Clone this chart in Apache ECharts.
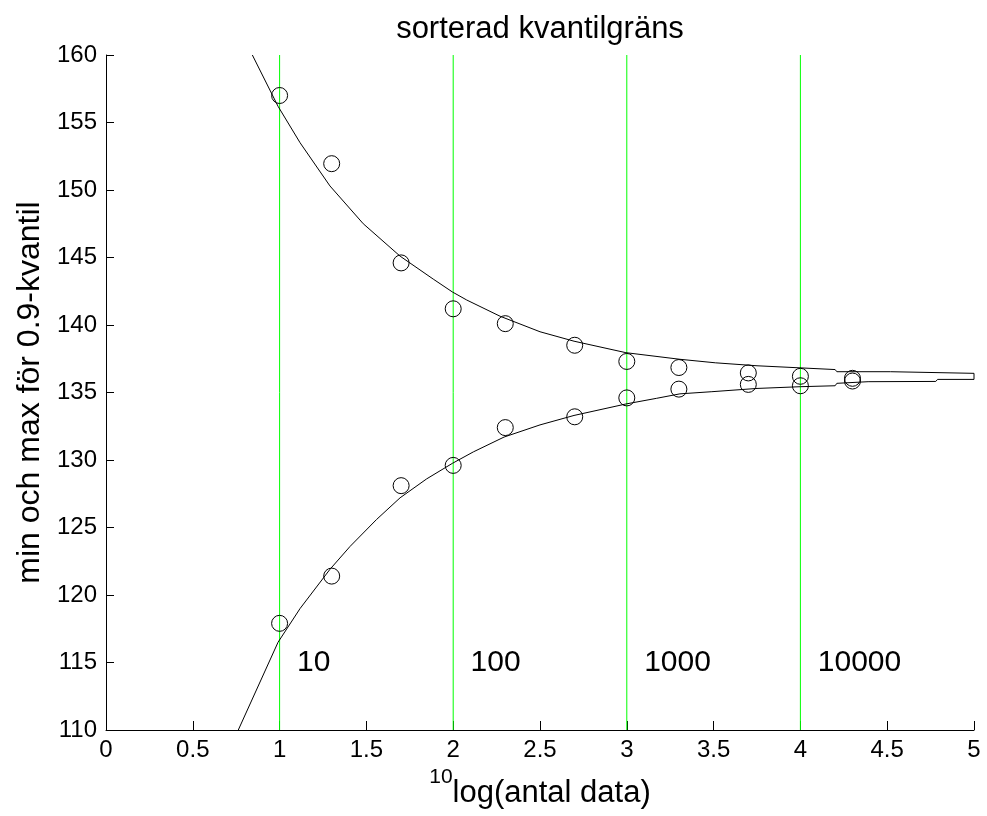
<!DOCTYPE html>
<html>
<head>
<meta charset="utf-8">
<script src="https://cdn.jsdelivr.net/npm/echarts@6/dist/echarts.min.js"></script>
<style>html,body{margin:0;padding:0;background:#fff}#c{width:987px;height:816px}</style>
</head>
<body>
<div id="c"></div>
<script>
// ---- data ----
var pointX = [1, 1.3, 1.7, 2, 2.3, 2.7, 3, 3.3, 3.7, 4, 4.3];
var pointUpper = [157.0, 151.95, 144.6, 141.2, 140.1, 138.5, 137.3, 136.85, 136.45, 136.2, 136.05];
var pointLower = [117.9, 121.4, 128.1, 129.6, 132.4, 133.2, 134.6, 135.25, 135.6, 135.5, 135.85];

var upperCurveX = [0.843, 0.991, 1.118, 1.29, 1.482, 1.694, 1.885, 1.995, 2.078, 2.27, 2.50, 2.696, 2.995, 3.306, 3.51, 3.52, 3.75, 3.76, 4.20, 4.21, 4.52, 4.53, 5.0];
var upperCurveY = [160.0, 156.2, 153.5, 150.3, 147.5, 145.1, 143.4, 142.45, 141.85, 140.65, 139.5, 138.8, 137.95, 137.46, 137.2, 137.1, 136.98, 136.84, 136.7, 136.54, 136.54, 136.42, 136.42];
var lowerCurveX = [0.762, 0.991, 1.118, 1.29, 1.406, 1.559, 1.694, 1.847, 1.995, 2.116, 2.293, 2.50, 2.696, 2.995, 3.172, 3.306, 3.48, 3.49, 3.75, 4.0, 4.20, 4.21, 4.38, 4.39, 4.78, 4.79, 5.0];
var lowerCurveY = [110.0, 116.5, 119.0, 121.9, 123.6, 125.6, 127.2, 128.6, 129.75, 130.6, 131.7, 132.6, 133.3, 134.15, 134.57, 134.9, 135.0, 135.06, 135.3, 135.43, 135.5, 135.68, 135.7, 135.8, 135.82, 135.97, 135.97];

var guideX = [1, 2, 3, 4];
var annotX = [1.1, 2.1, 3.1, 4.1];
var annotY = [115, 115, 115, 115];
var annotText = ['10', '100', '1000', '10000'];

var titleText = 'sorterad kvantilgräns';
var xLabelSup = '10';
var xLabelBase = 'log(antal data)';
var yLabel = 'min och max för 0.9-kvantil';

// ---- build ----
var FONT = 'Liberation Sans, Arial, sans-serif';
var outline = [];
for (var i = 0; i < upperCurveX.length; i++) outline.push([upperCurveX[i], upperCurveY[i]]);
for (var j = lowerCurveX.length - 1; j >= 0; j--) outline.push([lowerCurveX[j], lowerCurveY[j]]);

var series = [];
guideX.forEach(function (gx) {
  series.push({
    type: 'line', data: [[gx, 110], [gx, 160]], symbol: 'none', silent: true,
    lineStyle: { color: '#00ff00', width: 1 }, z: 1, animation: false
  });
});
series.push({
  type: 'line', data: outline, symbol: 'none', clip: true,
  lineStyle: { color: '#000', width: 1 }, z: 3, animation: false
});
var circleStyle = { color: 'rgba(0,0,0,0)', borderColor: '#000', borderWidth: 1, opacity: 1 };
series.push({
  type: 'scatter', data: pointX.map(function (x, k) { return [x, pointUpper[k]]; }),
  symbol: 'circle', symbolSize: 16, itemStyle: circleStyle, z: 4, animation: false
});
series.push({
  type: 'scatter', data: pointX.map(function (x, k) { return [x, pointLower[k]]; }),
  symbol: 'circle', symbolSize: 16, itemStyle: circleStyle, z: 4, animation: false
});
series.push({
  type: 'scatter', data: annotX.map(function (x, k) { return [x, annotY[k], annotText[k]]; }),
  symbolSize: 0, silent: true, animation: false, itemStyle: { opacity: 1 },
  label: { show: true, position: [0, 0], align: 'left', verticalAlign: 'middle',
    formatter: function (p) { return p.data[2]; }, color: '#000', fontSize: 30, fontFamily: FONT }
});

var chart = echarts.init(document.getElementById('c'), null, { renderer: 'canvas' });
chart.setOption({
  backgroundColor: '#fff',
  animation: false,
  title: {
    text: titleText, left: 535, top: 9, textAlign: 'center',
    textStyle: { fontSize: 31, fontWeight: 'normal', color: '#000', fontFamily: FONT }
  },
  grid: { left: 106, right: 13, top: 55, bottom: 86, containLabel: false },
  xAxis: {
    type: 'value', min: 0, max: 5, interval: 0.5,
    axisLine: { show: true, onZero: false, lineStyle: { color: '#000', width: 1 } },
    axisTick: { show: true, inside: true, length: 9, lineStyle: { color: '#000' } },
    axisLabel: { fontSize: 24, color: '#000', fontFamily: FONT, margin: 8 },
    splitLine: { show: false },
    name: '{sup|' + xLabelSup + '}{base|' + xLabelBase + '}',
    nameLocation: 'middle', nameGap: 32,
    nameTextStyle: {
      fontFamily: FONT, color: '#000',
      rich: {
        sup: { fontSize: 21, fontFamily: FONT, color: '#000', verticalAlign: 'top', lineHeight: 42 },
        base: { fontSize: 31, fontFamily: FONT, color: '#000', verticalAlign: 'bottom', lineHeight: 42 }
      }
    }
  },
  yAxis: {
    type: 'value', min: 110, max: 160, interval: 5,
    axisLine: { show: true, lineStyle: { color: '#000', width: 1 } },
    axisTick: { show: true, inside: true, length: 8, lineStyle: { color: '#000' } },
    axisLabel: { fontSize: 24, color: '#000', fontFamily: FONT, margin: 9 },
    splitLine: { show: false },
    name: yLabel, nameLocation: 'middle', nameGap: 57, nameRotate: 90,
    nameTextStyle: { fontSize: 32, color: '#000', fontFamily: FONT }
  },
  series: series
});
</script>
</body>
</html>
